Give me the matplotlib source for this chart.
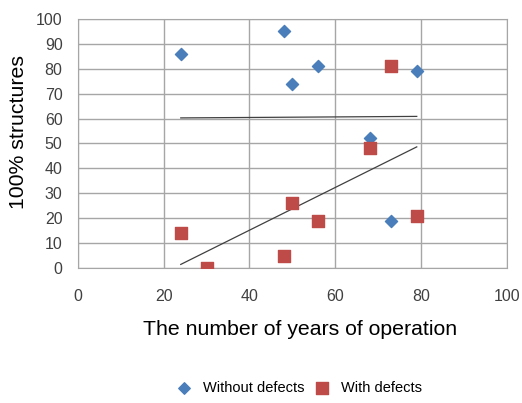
"""
  Scatter of structure condition versus years of operation, with trend lines.
"""
import numpy as np
import matplotlib.pyplot as plt

plt.rcParams["font.family"] = ["Liberation Sans", "DejaVu Sans"]

# Points without defects
years_ok = [24, 48, 50, 56, 68, 79, 73]
share_ok = [86, 95, 74, 81, 52, 79, 19]

# Points with defects
years_def = [24, 30, 48, 50, 56, 68, 73, 79]
share_def = [14, 0, 5, 26, 19, 48, 81, 21]

# Trend line for "without defects" as shown in the source (slope, intercept)
trend_ok = [0.011, 60.0]

x_ticks = [0, 20, 40, 60, 80, 100]
y_ticks = [0, 10, 20, 30, 40, 50, 60, 70, 80, 90, 100]

blue = "#4a7ebb"
red = "#be4b48"
grid_col = "#a6a6a6"

fig = plt.figure(figsize=(5.22, 4.03), dpi=100)
ax = fig.add_axes([0.149, 0.335, 0.822, 0.618])

ax.scatter(years_ok, share_ok, marker="D", s=38, color=blue, zorder=3,
           label="Without defects")
ax.scatter(years_def, share_def, marker="s", s=80, color=red, zorder=3,
           label="With defects")

# Trend lines over the range of the data
xa = np.array([min(years_ok), max(years_ok)])
ax.plot(xa, trend_ok[0] * xa + trend_ok[1], color="#404040", lw=0.9, zorder=2)
k, b = np.polyfit(years_def, share_def, 1)
xb = np.array([min(years_def), max(years_def)])
ax.plot(xb, k * xb + b, color="#404040", lw=0.9, zorder=2)

ax.set_xlim(0, 100)
ax.set_ylim(0, 100)
ax.set_xticks(x_ticks)
ax.set_yticks(y_ticks)
ax.grid(True, color=grid_col, lw=1)
ax.set_axisbelow(True)
for s in ax.spines.values():
    s.set_color(grid_col)
ax.tick_params(length=0, labelsize=11.5, colors="#404040")
ax.tick_params(axis="x", pad=15)
ax.tick_params(axis="y", pad=11)

ax.set_xlabel("The number of years of operation", fontsize=15.3)
ax.xaxis.set_label_coords(0.517, -0.208)
ax.set_ylabel("100% structures", fontsize=15.3)
ax.yaxis.set_label_coords(-0.117, 0.546)

fig.legend(loc="center", bbox_to_anchor=(0.567, 0.037), ncol=2, frameon=False,
           fontsize=10.5, handletextpad=0.3, columnspacing=0.2,
           markerscale=0.95)

fig.savefig("out.png", dpi=100)
